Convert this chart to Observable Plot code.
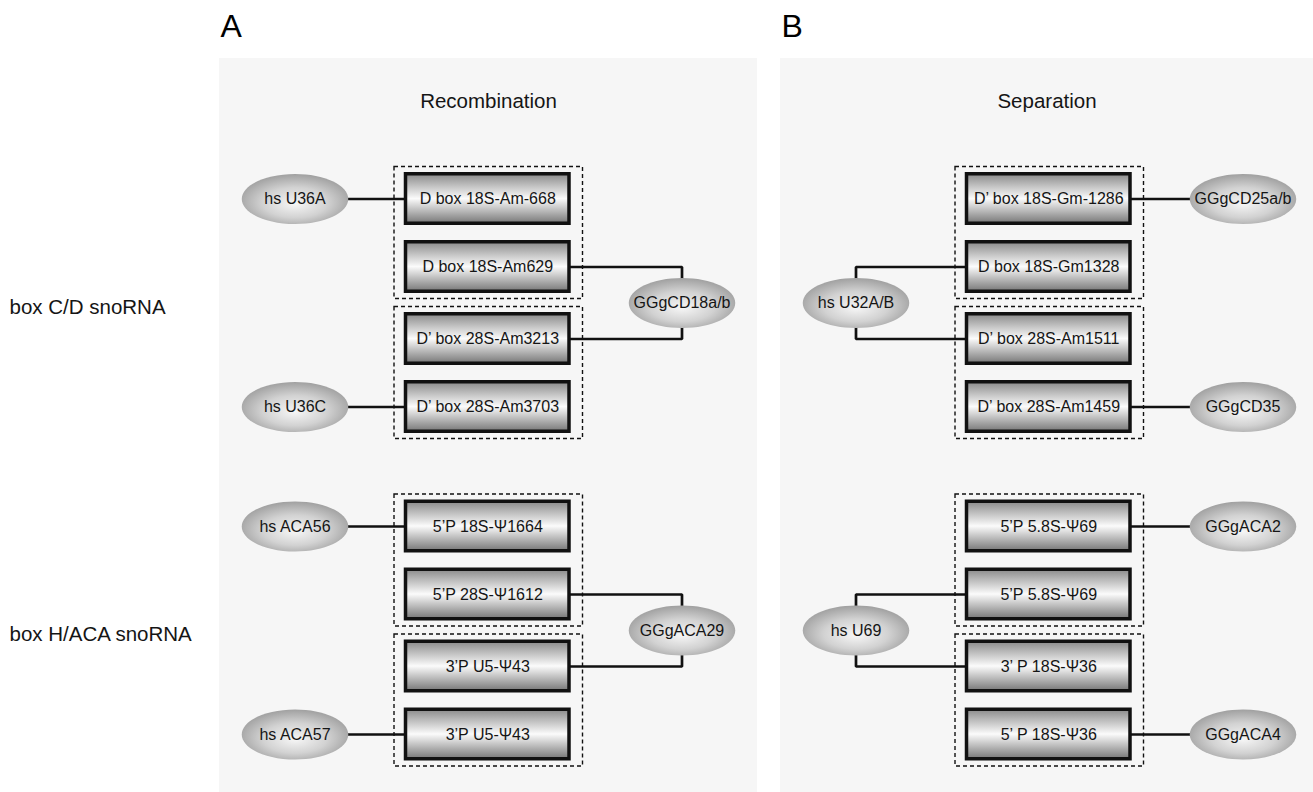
<!DOCTYPE html>
<html>
<head>
<meta charset="utf-8">
<script src="https://cdn.jsdelivr.net/npm/d3@7"></script>
<script src="https://cdn.jsdelivr.net/npm/@observablehq/plot@0.6"></script>
<style>
  html, body { margin: 0; padding: 0; background: #fff; overflow: hidden; }
</style>
</head>
<body>
<div id="chart"></div>
<script>
// ---------- data ----------
const panels = ["Recombination", "Separation"];
const panelLetters = ["A", "B"];
const groups = ["box C/D snoRNA", "box H/ACA snoRNA"];

const recombCD = ["D box 18S-Am-668", "D box 18S-Am629", "D\u2019 box 28S-Am3213", "D\u2019 box 28S-Am3703"];
const recombHACA = ["5\u2019P 18S-\u03A81664", "5\u2019P 28S-\u03A81612", "3\u2019P U5-\u03A843", "3\u2019P U5-\u03A843"];
const sepCD = ["D\u2019 box 18S-Gm-1286", "D box 18S-Gm1328", "D\u2019 box 28S-Am1511", "D\u2019 box 28S-Am1459"];
const sepHACA = ["5\u2019P 5.8S-\u03A869", "5\u2019P 5.8S-\u03A869", "3\u2019 P 18S-\u03A836", "5\u2019 P 18S-\u03A836"];

const recombCDGuides = [
  {name: "hs U36A", side: "left", rows: [0]},
  {name: "GGgCD18a/b", side: "right", rows: [1, 2]},
  {name: "hs U36C", side: "left", rows: [3]}
];
const recombHACAGuides = [
  {name: "hs ACA56", side: "left", rows: [0]},
  {name: "GGgACA29", side: "right", rows: [1, 2]},
  {name: "hs ACA57", side: "left", rows: [3]}
];
const sepCDGuides = [
  {name: "GGgCD25a/b", side: "right", rows: [0]},
  {name: "hs U32A/B", side: "left", rows: [1, 2]},
  {name: "GGgCD35", side: "right", rows: [3]}
];
const sepHACAGuides = [
  {name: "GGgACA2", side: "right", rows: [0]},
  {name: "hs U69", side: "left", rows: [1, 2]},
  {name: "GGgACA4", side: "right", rows: [3]}
];

const pairs = [[0, 1], [2, 3]];

const targetSets = [[recombCD, recombHACA], [sepCD, sepHACA]];
const guideSets = [[recombCDGuides, recombHACAGuides], [sepCDGuides, sepHACAGuides]];

// ---------- layout (positions & sizes) ----------
const L = {
  width: 1313, height: 792,
  panelLeft: [219, 780], panelRight: [757, 1313], panelTop: 58,
  letterY: 26, titleY: 100.6,
  groupBase: [198.5, 526], rowOffset: [0, 68, 140, 208],
  rectX1: 186.5, rectX2: 350, rectHalf: 24.75,
  dashX1: 175, dashX2: 363.5, dashPad: 32,
  leftEll: 75.5, rightEll: 462.5, ellRy: 25, ellAspect: 2.13,
  labelX: 9, labelDy: 4
};
const rowY = (g, i) => L.groupBase[g] + L.rowOffset[i];

// ---------- derived tables ----------
const panelTable = panels.map((name, p) => ({
  name, letter: panelLetters[p],
  x1: L.panelLeft[p], x2: L.panelRight[p], y1: L.panelTop, y2: L.height,
  cx: (L.panelLeft[p] + L.panelRight[p]) / 2
}));

const groupTable = groups.map((name, g) => ({
  name, y: (rowY(g, 1) + rowY(g, 2)) / 2 + L.labelDy
}));

const targets = [];
const dashed = [];
const nodes = [];
const links = [];
panels.forEach((_, p) => {
  const px = L.panelLeft[p];
  groups.forEach((_, g) => {
    targetSets[p][g].forEach((label, i) => {
      const y = rowY(g, i);
      targets.push({label, x1: px + L.rectX1, x2: px + L.rectX2, y1: y - L.rectHalf, y2: y + L.rectHalf,
                    cx: px + (L.rectX1 + L.rectX2) / 2, cy: y});
    });
    pairs.forEach(([a, b]) => {
      dashed.push({x1: px + L.dashX1, x2: px + L.dashX2, y1: rowY(g, a) - L.dashPad, y2: rowY(g, b) + L.dashPad});
    });
    guideSets[p][g].forEach((gd, k) => {
      const nx = px + (gd.side === "left" ? L.leftEll : L.rightEll);
      const ny = d3.mean(gd.rows, (r) => rowY(g, r));
      nodes.push({name: gd.name, x: nx, y: ny});
      const edge = px + (gd.side === "left" ? L.rectX1 : L.rectX2);
      gd.rows.forEach((r) => {
        const id = `${p}-${g}-${k}-${r}`;
        const y = rowY(g, r);
        if (gd.rows.length === 1) {
          links.push({id, x: nx, y}, {id, x: edge, y});
        } else {
          links.push({id, x: edge, y}, {id, x: nx, y}, {id, x: nx, y: ny});
        }
      });
    });
  });
});

// custom ellipse symbol
const ellipse = {
  draw(ctx, size) {
    const ry = Math.sqrt(size / Math.PI), rx = ry * L.ellAspect;
    const k = 0.5522847, kx = rx * k, ky = ry * k;
    ctx.moveTo(rx, 0);
    ctx.bezierCurveTo(rx, ky, kx, ry, 0, ry);
    ctx.bezierCurveTo(-kx, ry, -rx, ky, -rx, 0);
    ctx.bezierCurveTo(-rx, -ky, -kx, -ry, 0, -ry);
    ctx.bezierCurveTo(kx, -ry, rx, -ky, rx, 0);
    ctx.closePath();
  }
};

const font = "'Liberation Sans', Arial, Helvetica, sans-serif";
const ink = "#151515";

const svg = Plot.plot({
  width: L.width,
  height: L.height,
  margin: 0,
  x: {domain: [0, L.width], range: [0, L.width], axis: null},
  y: {domain: [0, L.height], range: [0, L.height], axis: null},
  style: {background: "#fff", fontFamily: font},
  marks: [
    Plot.rect(panelTable, {x1: "x1", x2: "x2", y1: "y1", y2: "y2", fill: "#f6f6f6"}),
    Plot.text(panelTable, {x: "x1", y: () => L.letterY, text: "letter", textAnchor: "start", dx: 1, fontSize: 32, fill: "#000"}),
    Plot.text(panelTable, {x: "cx", y: () => L.titleY, text: "name", fontSize: 20.5, fill: ink}),
    Plot.text(groupTable, {x: () => L.labelX, y: "y", text: "name", textAnchor: "start", fontSize: 20.5, fill: ink}),
    Plot.line(links, {x: "x", y: "y", z: "id", stroke: "#111", strokeWidth: 2.7, strokeLinejoin: "miter", strokeLinecap: "butt", curve: "linear"}),
    Plot.rect(dashed, {x1: "x1", x2: "x2", y1: "y1", y2: "y2", fill: "none", stroke: "#111", strokeWidth: 1.4, strokeDasharray: "4,3"}),
    Plot.rect(targets, {x1: "x1", x2: "x2", y1: "y1", y2: "y2", fill: "url(#boxGrad)", stroke: "#111", strokeWidth: 3.5}),
    Plot.text(targets, {x: "cx", y: "cy", text: "label", fontSize: 16, fill: ink}),
    Plot.dot(nodes, {x: "x", y: "y", r: L.ellRy, symbol: ellipse, fill: "url(#ellGrad)", stroke: "none"}),
    Plot.text(nodes, {x: "x", y: "y", text: "name", fontSize: 16, fill: ink})
  ]
});

// gradients
const defs = d3.select(svg).insert("defs", ":first-child");
const lg = defs.append("linearGradient").attr("id", "boxGrad")
  .attr("x1", 0).attr("y1", 0).attr("x2", 0).attr("y2", 1);
[[0, "#8a8a8a"], [0.5, "#fbfbfb"], [1, "#777777"]].forEach(([o, c]) =>
  lg.append("stop").attr("offset", o).attr("stop-color", c));
const rg = defs.append("radialGradient").attr("id", "ellGrad")
  .attr("cx", 0.5).attr("cy", 0.55).attr("r", 0.55).attr("fx", 0.5).attr("fy", 0.6);
[[0, "#f6f6f6"], [0.55, "#d2d2d2"], [1, "#a0a0a0"]].forEach(([o, c]) =>
  rg.append("stop").attr("offset", o).attr("stop-color", c));

document.getElementById("chart").append(svg);
</script>
</body>
</html>
